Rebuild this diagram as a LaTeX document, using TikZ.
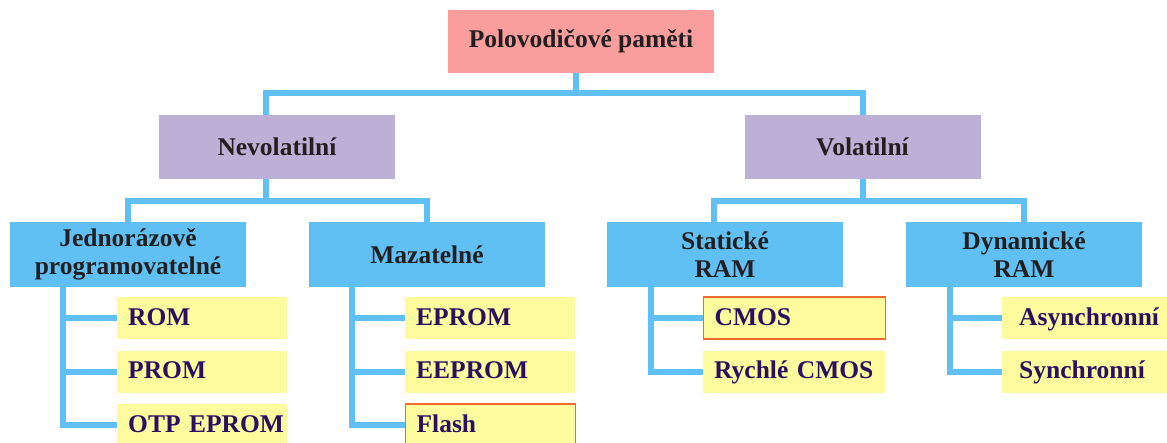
\documentclass[tikz,border=0pt]{standalone}
\usepackage{fontspec}
\setmainfont{Liberation Serif}
\definecolor{linkblue}{HTML}{60C0F3}
\definecolor{rootpink}{HTML}{F99E9C}
\definecolor{grouplilac}{HTML}{BCB0D7}
\definecolor{leafyellow}{HTML}{FCFC9E}
\definecolor{headtext}{HTML}{231F20}
\definecolor{leaftext}{HTML}{2D0F62}
\definecolor{markline}{HTML}{F06A30}
\begin{document}
\begin{tikzpicture}[x=1pt,y=1pt,
  conn/.style={draw=linkblue, line width=6pt},
  box/.style={rectangle, inner sep=0pt, align=center, text=headtext,
    font=\fontsize{25.5}{28}\selectfont\bfseries},
  rootbox/.style={box, fill=rootpink, minimum width=266pt, minimum height=63pt},
  groupbox/.style={box, fill=grouplilac, minimum width=236pt, minimum height=64pt},
  kindbox/.style={box, fill=linkblue, minimum width=236pt, minimum height=65pt},
  leafbox/.style={rectangle, fill=leafyellow, anchor=west, inner sep=0pt,
    text width=170pt, minimum height=42pt, align=left,
    text height=16pt, text depth=2pt, text=leaftext,
    execute at begin node=\hspace*{#1},
    font=\fontsize{25.5}{28}\selectfont\bfseries},
  leafbox/.default=11pt,
  wideleaf/.style={leafbox, text width=182pt},
  padleaf/.style={leafbox=17pt},
  marked/.style={draw=markline, line width=1.2pt}]
\useasboundingbox (0,0) rectangle (1167,-442);
\clip (0,0) rectangle (1167,-442);

% hierarchy boxes
\node[rootbox]  (root)  at (581,-41.5)  {Polovodičové paměti};
\node[groupbox] (nevol) at (277,-147)   {Nevolatilní};
\node[groupbox] (vol)   at (862.5,-147) {Volatilní};
\node[kindbox]  (jedn)  at (128,-254.5) {Jednorázově\\programovatelné};
\node[kindbox]  (maz)   at (427,-254.5) {Mazatelné};
\node[kindbox]  (stat)  at (725,-254.5) {Statické\\RAM};
\node[kindbox]  (dyn)   at (1024,-254.5) {Dynamické\\RAM};

% leaves
\node[leafbox] (rom)   at (117,-318)   {ROM};
\node[leafbox] (prom)  at (117,-371.5) {PROM};
\node[leafbox] (otp)   at (117,-425)   {OTP EPROM};
\node[leafbox] (eprom) at (405,-318)   {EPROM};
\node[leafbox] (eeprom) at (405,-371.5) {EEPROM};
\node[leafbox, marked] (flash) at (405,-425) {Flash};
\node[wideleaf, marked] (cmos) at (703,-318) {CMOS};
\node[wideleaf] (rcmos) at (703,-371.5) {Rychlé CMOS};
\node[padleaf] (async) at (1002,-318)   {Asynchronní};
\node[padleaf] (sync)  at (1002,-371.5) {Synchronní};

% level 1 -> 2
\draw[conn] ([xshift=-5pt]root.south) -- ++(0,-20);
\draw[conn] ([xshift=-11pt]nevol.north) -- ++(0,22) -| (vol.north);

% level 2 -> 3
\draw[conn] ([xshift=-11pt]nevol.south) -- ++(0,-22);
\draw[conn] (vol.south) -- ++(0,-22);
\draw[conn] (jedn.north) -- ++(0,21) -| (maz.north);
\draw[conn] ([xshift=-11pt]stat.north) -- ++(0,21) -| (dyn.north);

% level 3 -> leaves
\draw[conn] ([xshift=53pt]jedn.south west) |- (rom.west);
\draw[conn] ([xshift=53pt]jedn.south west) |- (prom.west);
\draw[conn] ([xshift=53pt]jedn.south west) |- (otp.west);
\draw[conn] ([xshift=43pt]maz.south west) |- (eprom.west);
\draw[conn] ([xshift=43pt]maz.south west) |- (eeprom.west);
\draw[conn] ([xshift=43pt]maz.south west) |- (flash.west);
\draw[conn] ([xshift=44pt]stat.south west) |- (cmos.west);
\draw[conn] ([xshift=44pt]stat.south west) |- (rcmos.west);
\draw[conn] ([xshift=44pt]dyn.south west) |- (async.west);
\draw[conn] ([xshift=44pt]dyn.south west) |- (sync.west);
\end{tikzpicture}
\end{document}
